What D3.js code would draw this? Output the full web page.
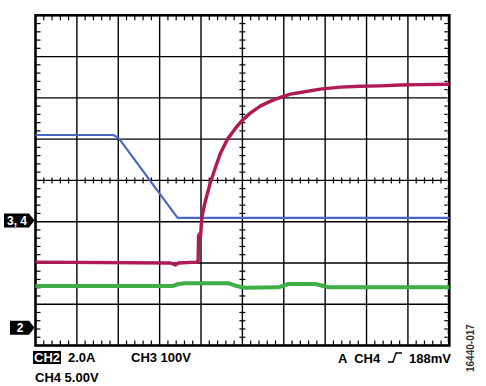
<!DOCTYPE html>
<html>
<head>
<meta charset="utf-8">
<script src="https://cdn.jsdelivr.net/npm/d3@7"></script>
<style>
  body { margin: 0; background: #fff; }
  svg { display: block; }
  text { font-family: "Liberation Sans", Arial, sans-serif; font-weight: bold; }
</style>
</head>
<body>
<svg id="scope"></svg>
<script>
// trace data, in screen divisions (x: -5..5, y: -4..4)
const blueX = [-5, -3.12, -3.0, -2.95, -1.58, -1.55, 5];
const blueY = [1.10, 1.10, 1.03, 0.97, -0.89, -0.91, -0.91];

const redX = [-5, -1.74, -1.62, -1.55, -1.11, -1.07, -1.06, -1.04, -1.01, -0.99, -0.97, -0.89, -0.77, -0.65, -0.53, -0.36, -0.17, 0, 0.19, 0.43, 0.68, 0.92, 1.16, 1.40, 1.88, 2.37, 2.85, 3.33, 3.82, 4.30, 5];
const redY = [-1.98, -2.00, -2.05, -2.00, -1.98, -1.96, -1.35, -1.30, -1.35, -1.01, -0.84, -0.48, -0.04, 0.32, 0.66, 1.00, 1.26, 1.46, 1.63, 1.80, 1.92, 2.01, 2.09, 2.13, 2.21, 2.26, 2.28, 2.29, 2.31, 2.32, 2.33];

const greenX = [-5, -1.69, -1.55, -1.38, -0.34, -0.14, 0.07, 0.87, 1.11, 1.76, 2.08, 5];
const greenY = [-2.56, -2.56, -2.51, -2.49, -2.49, -2.56, -2.60, -2.59, -2.51, -2.51, -2.59, -2.59];

// channel ground markers
const markerLabels = ["3, 4", "2"];
const markerLevels = [-0.97, -3.57];

const xDivs = d3.range(-5, 6);
const yDivs = d3.range(-4, 5);

const width = 486, height = 386;
const svg = d3.select("#scope").attr("width", width).attr("height", height);

const x = d3.scaleLinear().domain([-5, 5]).range([35.5, 449.3]);
const y = d3.scaleLinear().domain([-4, 4]).range([345.5, 15.3]);

const g = svg.append("g");

// grid
g.selectAll(".vgrid").data(xDivs.slice(1, -1)).enter().append("line")
    .attr("x1", d => x(d)).attr("x2", d => x(d))
    .attr("y1", y(4)).attr("y2", y(-4))
    .attr("stroke", "#000").attr("stroke-width", 1.4);
g.selectAll(".hgrid").data(yDivs.slice(1, -1)).enter().append("line")
    .attr("y1", d => y(d)).attr("y2", d => y(d))
    .attr("x1", x(-5)).attr("x2", x(5))
    .attr("stroke", "#000").attr("stroke-width", 1.4);

// minor ticks
const minorX = d3.range(-5, 5.001, 0.2).filter(d => Math.abs(d - Math.round(d)) > 0.01);
const minorY = d3.range(-4, 4.001, 0.2).filter(d => Math.abs(d - Math.round(d)) > 0.01);
const tickStyle = sel => sel.attr("stroke", "#000").attr("stroke-width", 1.2);

g.selectAll(".tt").data(minorX).enter().append("line")
    .attr("x1", d => x(d)).attr("x2", d => x(d))
    .attr("y1", y(4)).attr("y2", y(4) + 5).call(tickStyle);
g.selectAll(".bt").data(minorX).enter().append("line")
    .attr("x1", d => x(d)).attr("x2", d => x(d))
    .attr("y1", y(-4)).attr("y2", y(-4) - 5).call(tickStyle);
g.selectAll(".ct").data(minorX).enter().append("line")
    .attr("x1", d => x(d)).attr("x2", d => x(d))
    .attr("y1", y(0) - 3).attr("y2", y(0) + 3).call(tickStyle);
g.selectAll(".lt").data(minorY).enter().append("line")
    .attr("y1", d => y(d)).attr("y2", d => y(d))
    .attr("x1", x(-5)).attr("x2", x(-5) + 5).call(tickStyle);
g.selectAll(".rt").data(minorY).enter().append("line")
    .attr("y1", d => y(d)).attr("y2", d => y(d))
    .attr("x1", x(5)).attr("x2", x(5) - 5).call(tickStyle);
g.selectAll(".cv").data(minorY).enter().append("line")
    .attr("y1", d => y(d)).attr("y2", d => y(d))
    .attr("x1", x(0) - 3).attr("x2", x(0) + 3).call(tickStyle);

// orange dashes at right edge
g.append("line")
    .attr("x1", x(5) - 1.5).attr("x2", x(5) - 1.5)
    .attr("y1", y(4) + 2).attr("y2", y(-4) - 2)
    .attr("stroke", "#f0a020").attr("stroke-width", 1.2)
    .attr("stroke-dasharray", "5,3");

// frame
g.append("rect")
    .attr("x", x(-5)).attr("y", y(4))
    .attr("width", x(5) - x(-5)).attr("height", y(-4) - y(4))
    .attr("fill", "none").attr("stroke", "#000").attr("stroke-width", 2.6);

// traces
const line = d3.line().x(d => x(d[0])).y(d => y(d[1]));
const traces = [
    { xs: greenX, ys: greenY, color: "#3fae45", w: 4 },
    { xs: blueX, ys: blueY, color: "#4a68c0", w: 2.2 },
    { xs: redX, ys: redY, color: "#b01a55", w: 3.4 }
];
traces.forEach(t => {
    g.append("path")
        .datum(t.xs.map((v, i) => [v, t.ys[i]]))
        .attr("d", line)
        .attr("fill", "none")
        .attr("stroke", t.color)
        .attr("stroke-width", t.w)
        .attr("stroke-linejoin", "round");
});

// ground markers
markerLabels.forEach((lab, i) => {
    const my = y(markerLevels[i]);
    const left = lab.length > 1 ? 4 : 10;
    svg.append("path")
        .attr("d", `M${left},${my - 7} L29,${my - 7} L34.5,${my} L29,${my + 7} L${left},${my + 7} Z`)
        .attr("fill", "#000");
    svg.append("text")
        .attr("x", (left + 29) / 2 + 0.5).attr("y", my + 4.5)
        .attr("text-anchor", "middle")
        .attr("font-size", 12).attr("fill", "#fff")
        .text(lab);
});

// readouts
svg.append("rect").attr("x", 33).attr("y", 351).attr("width", 28).attr("height", 13).attr("fill", "#000");
svg.append("text").attr("x", 34).attr("y", 362).attr("font-size", 13).attr("fill", "#fff").text("CH2");
svg.append("text").attr("x", 68).attr("y", 362).attr("font-size", 13).text("2.0A");
svg.append("text").attr("x", 131).attr("y", 362).attr("font-size", 13).text("CH3 100V");
svg.append("text").attr("x", 35).attr("y", 382).attr("font-size", 13).text("CH4 5.00V");

svg.append("text").attr("x", 338).attr("y", 363).attr("font-size", 13).attr("xml:space", "preserve").text("A  CH4");
svg.append("path")
    .attr("d", "M388,362 L393,362 L396,353 L402,353")
    .attr("fill", "none").attr("stroke", "#000").attr("stroke-width", 1.4);
svg.append("text").attr("x", 451).attr("y", 363).attr("font-size", 13)
    .attr("text-anchor", "end").text("188mV");

svg.append("text")
    .attr("transform", "translate(474,372) rotate(-90)")
    .attr("font-size", 10).attr("font-weight", "normal").attr("fill", "#333")
    .text("16440-017");
</script>
</body>
</html>
